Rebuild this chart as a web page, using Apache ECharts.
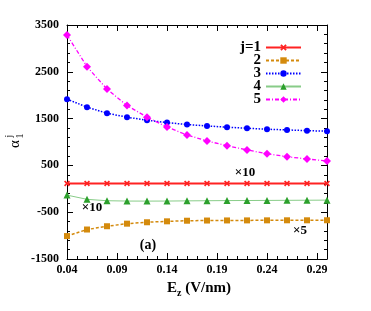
<!DOCTYPE html>
<html><head><meta charset="utf-8">
<script src="https://cdn.jsdelivr.net/npm/echarts@6/dist/echarts.min.js"></script>
<style>html,body{margin:0;padding:0;background:#fff}#c{width:371px;height:311px}</style>
</head><body><div id="c"></div>
<script>
// ---- data ----
const fieldEz = [0.04,0.06,0.08,0.10,0.12,0.14,0.16,0.18,0.20,0.22,0.24,0.26,0.28,0.30];
const seriesNames = ['j=1','2','3','4','5'];
const alpha1 = [115,115,115,115,115,115,115,115,115,115,115,115,115,115];
const alpha2 = [-1010,-870,-800,-745,-715,-695,-682,-678,-676,-675,-674,-673,-673,-672];
const alpha3 = [1915,1745,1615,1530,1465,1415,1372,1344,1316,1294,1273,1258,1243,1230];
const alpha4 = [-135,-225,-255,-262,-263,-262,-258,-255,-252,-250,-248,-246,-244,-242];
const alpha5 = [3285,2610,2130,1780,1530,1320,1150,1022,922,830,750,686,637,594];
const xTickStart = 0.04, xTickStep = 0.05, xMax = 0.30;
const yMin = -1500, yMax = 3500, yStep = 1000;
const annotations = ['\u00d710','\u00d710','\u00d75','(a)'];

const FONT = "'Liberation Serif','Times New Roman',serif";
const chart = echarts.init(document.getElementById('c'), null, {renderer:'canvas'});

const X_CROSS = 'path://M0,2 L2,0 L5,3 L8,0 L10,2 L7,5 L10,8 L8,10 L5,7 L2,10 L0,8 L3,5 Z';
const styles = [
  {color:'#ff2222', type:'solid', width:2, symbol:X_CROSS, size:6},
  {color:'#d48a0c', type:[3,2], width:1.5, symbol:'rect', size:6},
  {color:'#0000ff', type:[1.5,1.5], width:1.5, symbol:'circle', size:6},
  {color:'#2ca02c', type:'solid', width:1, symbol:'triangle', size:7, lineColor:'#88cc88'},
  {color:'#ff00ff', type:[4,2,1,2], width:1.3, symbol:'diamond', size:8}
];
const allData = [alpha1, alpha2, alpha3, alpha4, alpha5];

function axisCommon(pos, showLabel, isX){
  const o = {
    type:'value', position:pos,
    axisLine:{show:true, onZero:false, lineStyle:{color:'#000', width:1}},
    axisTick:{show:true, inside:true, length:6, lineStyle:{color:'#000'}},
    minorTick:{show:true, splitNumber:5, length:3, lineStyle:{color:'#000'}},
    splitLine:{show:false},
    axisLabel:{show:showLabel, color:'#000', fontFamily:FONT, fontWeight:'bold', fontSize:12, margin: isX?5:8}
  };
  if (isX){
    o.min = xTickStart; o.max = xMax; o.interval = xTickStep;
    o.axisLabel.formatter = v => v.toFixed(2);
    o.axisLabel.showMaxLabel = false;
  } else {
    o.min = yMin; o.max = yMax; o.interval = yStep;
    o.axisLabel.formatter = v => String(Math.round(v));
  }
  return o;
}

const series = allData.map((d,i)=>({
  name: seriesNames[i], type:'line',
  data: fieldEz.map((x,k)=>[x,d[k]]),
  symbol: styles[i].symbol, symbolSize: styles[i].size,
  itemStyle:{color:styles[i].color},
  lineStyle:{color:styles[i].lineColor||styles[i].color, type:styles[i].type, width:styles[i].width},
  animation:false, z: 2+i
}));

const ctx = document.createElement('canvas').getContext('2d');
function tw(text, size){ ctx.font = 'bold '+size+'px '+FONT; return ctx.measureText(text).width; }
const wE = tw('E',15), wz = tw('z',10);
const rest = ' (V/nm)';
const totalW = wE + wz + tw(rest,15);
const xName0 = 199 - totalW/2;

const textStyleBase = {fontFamily:FONT, fontWeight:'bold', fill:'#000'};
chart.setOption({
  animation:false,
  grid:{left:67, right:44, top:25, bottom:52},
  xAxis:[axisCommon('bottom',true,true), axisCommon('top',false,true)],
  yAxis:[axisCommon('left',true,false), axisCommon('right',false,false)],
  legend:{
    show:true, orient:'vertical', align:'right', right:64, top:35,
    itemWidth:35, itemHeight:8, itemGap:-2,
    textStyle:{fontFamily:FONT, fontWeight:'bold', fontSize:15, color:'#000', lineHeight:12},
    data: seriesNames
  },
  series: series,
  graphic:[
    {type:'group', x:15, y:144, rotation:Math.PI/2, children:[
      {type:'text', x:0, y:0, style:Object.assign({text:'\u03b1', fontSize:15, align:'center', verticalAlign:'middle'}, textStyleBase, {fontWeight:'normal'})},
      {type:'text', x:8, y:-6, style:Object.assign({text:'j', fontSize:10, align:'center', verticalAlign:'middle'}, textStyleBase, {fontWeight:'normal'})},
      {type:'text', x:8, y:5, style:Object.assign({text:'1', fontSize:10, align:'center', verticalAlign:'middle'}, textStyleBase, {fontWeight:'normal'})}
    ]},
    {type:'text', x:xName0, y:288, style:Object.assign({text:'E', fontSize:15, align:'left', verticalAlign:'middle'}, textStyleBase)},
    {type:'text', x:xName0+wE, y:293, style:Object.assign({text:'z', fontSize:10, align:'left', verticalAlign:'middle'}, textStyleBase)},
    {type:'text', x:xName0+wE+wz, y:288, style:Object.assign({text:rest, fontSize:15, align:'left', verticalAlign:'middle'}, textStyleBase)},
    {type:'text', x:245, y:173, style:Object.assign({text:annotations[0], fontSize:13, align:'center', verticalAlign:'middle'}, textStyleBase)},
    {type:'text', x:92, y:208, style:Object.assign({text:annotations[1], fontSize:13, align:'center', verticalAlign:'middle'}, textStyleBase)},
    {type:'text', x:300, y:231, style:Object.assign({text:annotations[2], fontSize:13, align:'center', verticalAlign:'middle'}, textStyleBase)},
    {type:'text', x:148, y:245, style:Object.assign({text:annotations[3], fontSize:14, align:'center', verticalAlign:'middle'}, textStyleBase)}
  ]
});
</script></body></html>
